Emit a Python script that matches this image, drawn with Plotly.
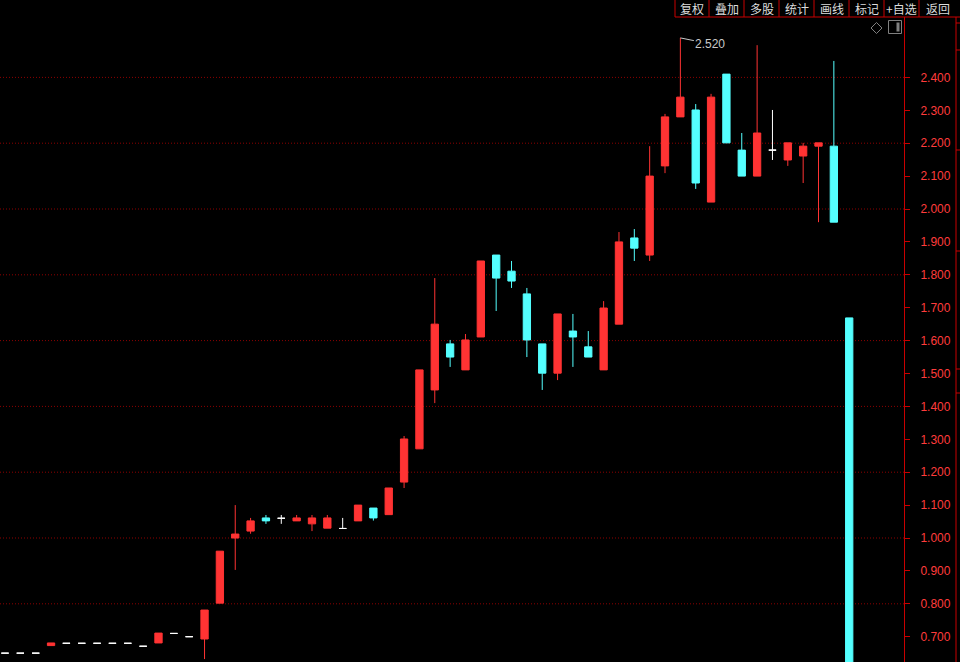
import plotly.graph_objects as go

# K线数据
opens = [0.650, 0.650, 0.650, 0.673, 0.680, 0.680, 0.680, 0.680, 0.680, 0.671,
         0.681, 0.710, 0.700, 0.693, 0.802, 1.000, 1.021, 1.061, 1.060, 1.052,
         1.043, 1.030, 1.029, 1.052, 1.091, 1.071, 1.170, 1.271, 1.450, 1.590,
         1.511, 1.611, 1.860, 1.811, 1.742, 1.590, 1.501, 1.629, 1.581, 1.511,
         1.650, 1.912, 1.860, 2.131, 2.280, 2.301, 2.021, 2.410, 2.179, 2.100,
         2.179, 2.149, 2.161, 2.191, 2.191, 1.669]
highs = [0.650, 0.650, 0.650, 0.681, 0.680, 0.680, 0.680, 0.680, 0.680, 0.671,
         0.711, 0.710, 0.700, 0.781, 0.960, 1.100, 1.061, 1.070, 1.070, 1.070,
         1.070, 1.070, 1.061, 1.100, 1.091, 1.152, 1.310, 1.511, 1.790, 1.602,
         1.620, 1.842, 1.860, 1.842, 1.760, 1.590, 1.681, 1.681, 1.629, 1.720,
         1.930, 1.939, 2.191, 2.289, 2.520, 2.319, 2.350, 2.410, 2.231, 2.498,
         2.301, 2.201, 2.201, 2.201, 2.450, 1.669]
lows = [0.650, 0.650, 0.650, 0.673, 0.680, 0.680, 0.680, 0.680, 0.680, 0.671,
        0.681, 0.710, 0.700, 0.632, 0.802, 0.903, 1.013, 1.043, 1.043, 1.052,
        1.021, 1.030, 1.029, 1.052, 1.053, 1.071, 1.152, 1.271, 1.410, 1.520,
        1.511, 1.611, 1.690, 1.760, 1.550, 1.450, 1.480, 1.520, 1.550, 1.511,
        1.650, 1.842, 1.842, 2.109, 2.280, 2.061, 2.021, 2.201, 2.100, 2.100,
        2.149, 2.131, 2.079, 1.960, 1.960, 0.550]
closes = [0.650, 0.650, 0.650, 0.681, 0.680, 0.680, 0.680, 0.680, 0.680, 0.671,
          0.711, 0.710, 0.700, 0.781, 0.960, 1.012, 1.052, 1.052, 1.060, 1.061,
          1.061, 1.061, 1.029, 1.100, 1.061, 1.152, 1.301, 1.511, 1.650, 1.550,
          1.602, 1.842, 1.790, 1.781, 1.602, 1.501, 1.681, 1.611, 1.550, 1.699,
          1.900, 1.881, 2.100, 2.280, 2.340, 2.079, 2.340, 2.201, 2.100, 2.231,
          2.179, 2.201, 2.191, 2.201, 1.960, 0.550]

y_ticks = [0.7, 0.8, 0.9, 1.0, 1.1, 1.2, 1.3, 1.4, 1.5, 1.6, 1.7, 1.8, 1.9,
           2.0, 2.1, 2.2, 2.3, 2.4]
y_tick_text = ['%.3f' % v for v in y_ticks]
grid_levels = [0.8, 1.0, 1.2, 1.4, 1.6, 1.8, 2.0, 2.2, 2.4]
toolbar_labels = ['复权', '叠加', '多股', '统计', '画线', '标记', '+自选', '返回']

RED = '#ff3333'
CYAN = '#54ffff'
WHITE = '#ffffff'
LINE_RED = '#c80000'

W, H = 960, 662
PX0, PX1, PY0, PY1 = 0, 904, 17, 662


def px(x):
    return (x - PX0) / (PX1 - PX0)


def py(y):
    return (PY1 - y) / (PY1 - PY0)


# 按涨跌分组
groups = {RED: [], CYAN: [], WHITE: []}
for i, (o, c) in enumerate(zip(opens, closes)):
    if c > o:
        groups[RED].append(i)
    elif c < o:
        groups[CYAN].append(i)
    else:
        groups[WHITE].append(i)

fig = go.Figure()
for color, idx in groups.items():
    style = dict(line=dict(color=color, width=1), fillcolor=color)
    fig.add_trace(go.Candlestick(
        x=idx,
        open=[opens[i] for i in idx],
        high=[highs[i] for i in idx],
        low=[lows[i] for i in idx],
        close=[closes[i] for i in idx],
        increasing=style,
        decreasing=style,
        whiskerwidth=0,
        showlegend=False,
    ))

shapes = []
# 虚线网格
for g in grid_levels:
    shapes.append(dict(type='line', xref='paper', yref='y', x0=0, x1=1, y0=g, y1=g,
                       line=dict(color='#8c0000', width=1, dash='1px,2px'), layer='below'))

# 顶部工具栏
seps = [675, 709, 744, 779, 814, 849, 884, 919]
for s in seps:
    shapes.append(dict(type='line', xref='paper', yref='paper', x0=px(s), x1=px(s),
                       y0=py(0), y1=py(17), line=dict(color=LINE_RED, width=1)))
shapes.append(dict(type='line', xref='paper', yref='paper', x0=px(675), x1=px(960),
                   y0=py(17), y1=py(17), line=dict(color=LINE_RED, width=1)))

# 右侧边线与刻度
shapes.append(dict(type='line', xref='paper', yref='paper', x0=px(956), x1=px(956),
                   y0=py(17), y1=py(662), line=dict(color=LINE_RED, width=1)))
for t in [23, 50, 150, 251, 369, 393]:
    shapes.append(dict(type='line', xref='paper', yref='paper', x0=px(956), x1=px(960),
                       y0=py(t), y1=py(t), line=dict(color=LINE_RED, width=1)))

# 图标
shapes.append(dict(type='path', xref='paper', yref='paper',
                   path='M {} {} L {} {} L {} {} L {} {} Z'.format(
                       px(871), py(28), px(876.5), py(22.5), px(882), py(28), px(876.5), py(33.5)),
                   line=dict(color='#808080', width=1)))
shapes.append(dict(type='rect', xref='paper', yref='paper', x0=px(888.5), x1=px(901.5),
                   y0=py(20.5), y1=py(33.5), line=dict(color='#808080', width=1)))
shapes.append(dict(type='rect', xref='paper', yref='paper', x0=px(896.5), x1=px(899.5),
                   y0=py(22.5), y1=py(31.5), fillcolor='#808080', line=dict(width=0)))

annotations = []
centers = [692, 726.5, 761.5, 796.5, 831.5, 866.5, 901.5, 938]
for lab, cx in zip(toolbar_labels, centers):
    annotations.append(dict(text=lab, xref='paper', yref='paper', x=px(cx), y=py(8.5),
                            showarrow=False, xanchor='center', yanchor='middle',
                            borderpad=0,
                            font=dict(family='Noto Sans CJK SC', size=12, color='#dcdcdc')))

# 最高价标注
annotations.append(dict(text='2.520', x=44, y=2.52, xref='x', yref='y',
                        showarrow=True, arrowhead=0, arrowwidth=1, arrowcolor='#c8c8c8',
                        ax=30, ay=6, standoff=0,
                        font=dict(family='Liberation Sans', size=12, color='#c8c8c8')))

fig.update_layout(
    width=W,
    height=H,
    paper_bgcolor='#000000',
    plot_bgcolor='#000000',
    margin=dict(l=PX0, r=W - PX1, t=PY0, b=H - PY1),
    boxgap=0.32,
    showlegend=False,
    shapes=shapes,
    annotations=annotations,
    xaxis=dict(range=[-0.326, 58.57], visible=False, rangeslider=dict(visible=False)),
    yaxis=dict(
        side='right',
        range=[0.6231, 2.5836],
        tickvals=y_ticks,
        ticktext=y_tick_text,
        showgrid=False,
        zeroline=False,
        showline=True,
        linecolor=LINE_RED,
        linewidth=1,
        ticks='outside',
        ticklen=5,
        tickcolor=LINE_RED,
        ticklabelstandoff=8,
        tickfont=dict(family='Liberation Sans', size=12, color='#ff3c3c'),
    ),
    font=dict(family='Liberation Sans'),
)

fig.write_html("out.html", config={'displayModeBar': False},
               post_script="document.body.style.margin='0';document.body.style.background='#000';")
